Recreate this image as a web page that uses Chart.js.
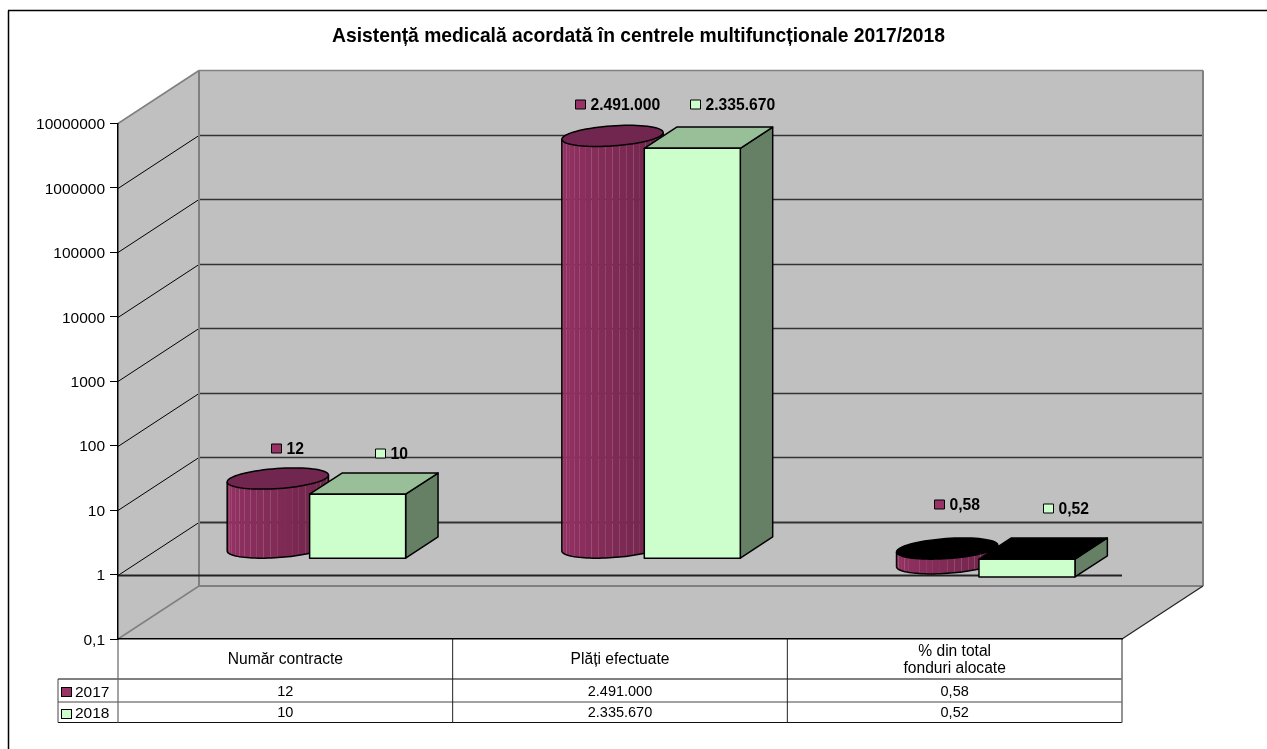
<!DOCTYPE html>
<html>
<head>
<meta charset="utf-8">
<title>Asistență medicală</title>
<script src="https://cdn.jsdelivr.net/npm/chart.js@4"></script>
<style>
    html, body { margin: 0; padding: 0; background: #fff; }
    canvas { display: block; }
</style>
</head>
<body>
<canvas id="chart" width="1267" height="749"></canvas>
<script>
const chartTitle = "Asistență medicală acordată în centrele multifuncționale 2017/2018";
const categories = ["Număr contracte", "Plăți efectuate", ["% din total", "fonduri alocate"]];
const seriesNames = ["2017", "2018"];
const values2017 = [12, 2491000, 0.58];
const values2018 = [10, 2335670, 0.52];
const tickValues = [0.1, 1, 10, 100, 1000, 10000, 100000, 1000000, 10000000];

const FONT = '"Liberation Sans", Arial, sans-serif';
const DEPTH_X = 81;
const DEPTH_Y = -53;
const NEAR = 0.3;
const FAR = 0.7;
const COLORS_2017 = { fill: "#993366", top: "#70264f" };
const COLORS_2018 = { fill: "#ccffcc", top: "#99bf99", side: "#668066" };
// where each value label sits relative to the top of its bar
const LABEL_SHIFT = [[9.5, 5, 10], [17, 24, 23]];
const LABEL_LIFT = [[30, 31, 44], [30, 33, 40]];

// 2.491.000 / 0,58
function formatValue(v) {
    const parts = String(v).split(".");
    parts[0] = parts[0].replace(/\B(?=(\d{3})+$)/g, ".");
    return parts.join(",");
}

function line(ctx, x0, y0, x1, y1, color, width) {
    ctx.strokeStyle = color;
    ctx.lineWidth = width;
    ctx.beginPath();
    ctx.moveTo(x0, y0);
    ctx.lineTo(x1, y1);
    ctx.stroke();
}

function poly(ctx, pts, fill, stroke, width) {
    ctx.beginPath();
    pts.forEach((p, i) => i ? ctx.lineTo(p[0], p[1]) : ctx.moveTo(p[0], p[1]));
    ctx.closePath();
    if (fill) {
        ctx.fillStyle = fill;
        ctx.fill();
    }
    if (stroke) {
        ctx.strokeStyle = stroke;
        ctx.lineWidth = width;
        ctx.lineJoin = "round";
        ctx.stroke();
    }
}

// walls, floor, gridlines and the table under the plot
function drawBackdrop(chart) {
    const ctx = chart.ctx;
    const { left, right, top, bottom } = chart.chartArea;
    const yScale = chart.scales.y;
    const backLeft = left + DEPTH_X;
    const backRight = right + DEPTH_X;
    const wallGray = "#c0c0c0";
    const edge = "#808080";

    // outer frame, the right and bottom sides run off the page
    line(ctx, 8.5, 749, 8.5, 10.5, "#000", 1.5);
    line(ctx, 8, 10.5, 1267, 10.5, "#000", 1.5);

    poly(ctx, [[left, top], [backLeft, top + DEPTH_Y], [backLeft, bottom + DEPTH_Y], [left, bottom]], wallGray);
    poly(ctx, [[backLeft, top + DEPTH_Y], [backRight, top + DEPTH_Y], [backRight, bottom + DEPTH_Y], [backLeft, bottom + DEPTH_Y]], wallGray);
    poly(ctx, [[left, bottom], [backLeft, bottom + DEPTH_Y], [backRight, bottom + DEPTH_Y], [right, bottom]], wallGray);

    tickValues.slice(1, -1).forEach(v => {
        const y = Math.round(yScale.getPixelForValue(v)) + 0.5;
        const backY = y + DEPTH_Y;
        line(ctx, left, y, backLeft, backY, "#000", 1);
        line(ctx, backLeft, backY, backRight, backY, "#333", v === 1 ? 2 : 1.3);
    });

    line(ctx, left, top, backLeft, top + DEPTH_Y, edge, 1.5);
    line(ctx, backLeft, top + DEPTH_Y, backRight, top + DEPTH_Y, edge, 1.5);
    line(ctx, backLeft, top + DEPTH_Y, backLeft, bottom + DEPTH_Y, edge, 2);
    line(ctx, backRight, top + DEPTH_Y, backRight, bottom + DEPTH_Y, edge, 2);
    line(ctx, left, bottom, backLeft, bottom + DEPTH_Y, edge, 1.5);
    line(ctx, backLeft, bottom + DEPTH_Y, backRight, bottom + DEPTH_Y, edge, 2);
    line(ctx, right, bottom, backRight, bottom + DEPTH_Y, "#222", 1.2);

    // the axis crosses at 1, that line stays in the front plane
    const oneY = Math.round(yScale.getPixelForValue(1)) + 0.5;
    line(ctx, left, oneY, right, oneY, "#222", 2);

    drawTable(chart);
}

function drawTable(chart) {
    const ctx = chart.ctx;
    const { left, right, bottom } = chart.chartArea;
    const xScale = chart.scales.x;
    const legendLeft = left - 60;
    const rowTop = bottom + 40;
    const rowMid = bottom + 63;
    const rowEnd = bottom + 83.5;
    const cell = (right - left) / categories.length;

    line(ctx, legendLeft, rowTop, right, rowTop, "#808080", 2);
    line(ctx, legendLeft, rowMid, right, rowMid, "#444", 1);
    line(ctx, legendLeft, rowEnd, right, rowEnd, "#111", 1.2);
    line(ctx, legendLeft, rowTop, legendLeft, rowEnd, "#444", 1);
    line(ctx, left, bottom, left, rowEnd, "#666", 1.2);
    line(ctx, right, bottom, right, rowEnd, "#777", 1.6);
    for (let i = 1; i < categories.length; i++) {
        line(ctx, left + cell * i, bottom, left + cell * i, rowEnd, "#222", 1);
    }

    ctx.textBaseline = "middle";
    const rows = [
        { name: seriesNames[0], data: values2017, color: COLORS_2017.fill, y: rowTop + 12.5, swatchY: rowTop + 8.5 },
        { name: seriesNames[1], data: values2018, color: COLORS_2018.fill, y: rowMid + 11, swatchY: rowMid + 7.5 }
    ];
    rows.forEach(row => {
        ctx.fillStyle = row.color;
        ctx.strokeStyle = "#000";
        ctx.lineWidth = 1;
        ctx.fillRect(legendLeft + 3.5, row.swatchY, 10, 9);
        ctx.strokeRect(legendLeft + 3.5, row.swatchY, 10, 9);
        ctx.fillStyle = "#000";
        ctx.font = "15.5px " + FONT;
        ctx.textAlign = "left";
        ctx.fillText(row.name, legendLeft + 17, row.y + 1);
        ctx.font = "14.5px " + FONT;
        ctx.textAlign = "center";
        row.data.forEach((v, i) => ctx.fillText(formatValue(v), xScale.getPixelForValue(i), row.y));
    });
}

// point on the ellipse of a cylinder cap, skewed along the depth vector
function capPoint(cx, cy, w, t) {
    const depth = FAR - NEAR;
    return [
        cx + (w / 2) * Math.cos(t) + (DEPTH_X * depth / 2) * Math.sin(t),
        cy + (DEPTH_Y * depth / 2) * Math.sin(t)
    ];
}

function drawCylinder(ctx, bar, capBlack) {
    const mid = (NEAR + FAR) / 2;
    const cx = bar.x + DEPTH_X * mid;
    const topY = Math.min(bar.y, bar.base) + DEPTH_Y * mid;
    const bottomY = Math.max(bar.y, bar.base) + DEPTH_Y * mid;
    const w = bar.width;
    const start = Math.atan2(DEPTH_X * (FAR - NEAR) / 2, w / 2) + Math.PI;
    const facets = 22;

    // one flat facet per step, the seams between them stay visible
    for (let k = 0; k < facets; k++) {
        const a = start + Math.PI * k / facets;
        const b = start + Math.PI * (k + 1) / facets;
        const s = k / (facets - 1);
        const r = Math.round(153 - 50 * s);
        const g = Math.round(51 - 17 * s);
        const bl = Math.round(102 - 33 * s);
        poly(ctx, [capPoint(cx, topY, w, a), capPoint(cx, topY, w, b), capPoint(cx, bottomY, w, b), capPoint(cx, bottomY, w, a)], `rgb(${r},${g},${bl})`);
    }

    ctx.strokeStyle = "#000";
    ctx.lineWidth = 1.5;
    ctx.beginPath();
    for (let k = 0; k <= 48; k++) {
        const p = capPoint(cx, bottomY, w, start + Math.PI * k / 48);
        k ? ctx.lineTo(p[0], p[1]) : ctx.moveTo(p[0], p[1]);
    }
    ctx.stroke();
    const l = capPoint(cx, topY, w, start);
    const lb = capPoint(cx, bottomY, w, start);
    const rt = capPoint(cx, topY, w, start + Math.PI);
    const rb = capPoint(cx, bottomY, w, start + Math.PI);
    line(ctx, l[0], l[1], lb[0], lb[1], "#000", 1.5);
    line(ctx, rt[0], rt[1], rb[0], rb[1], "#000", 1.5);

    const cap = [];
    for (let k = 0; k < 72; k++) {
        cap.push(capPoint(cx, topY, w, Math.PI * 2 * k / 72));
    }
    poly(ctx, cap, capBlack ? "#000" : COLORS_2017.top, "#000", 1.5);
}

function drawBox(ctx, bar, capBlack) {
    const x0 = bar.x - bar.width / 2 + DEPTH_X * NEAR;
    const x1 = bar.x + bar.width / 2 + DEPTH_X * NEAR;
    const dx = DEPTH_X * (FAR - NEAR);
    const dy = DEPTH_Y * (FAR - NEAR);
    const topY = Math.min(bar.y, bar.base) + DEPTH_Y * NEAR;
    const bottomY = Math.max(bar.y, bar.base) + DEPTH_Y * NEAR;

    poly(ctx, [[x1, topY], [x1 + dx, topY + dy], [x1 + dx, bottomY + dy], [x1, bottomY]], COLORS_2018.side, "#000", 1.5);
    poly(ctx, [[x0, topY], [x0 + dx, topY + dy], [x1 + dx, topY + dy], [x1, topY]], capBlack ? "#000" : COLORS_2018.top, "#000", 1.5);
    poly(ctx, [[x0, topY], [x1, topY], [x1, bottomY], [x0, bottomY]], COLORS_2018.fill, "#000", 1.5);
}

function drawLabel(ctx, bar, value, color, shift, lift) {
    const mid = (NEAR + FAR) / 2;
    const text = formatValue(value);
    const topY = Math.min(bar.y, bar.base) + DEPTH_Y * mid;
    const y = Math.round(topY - lift);
    ctx.font = "bold 15.7px " + FONT;
    const total = 15 + ctx.measureText(text).width;
    const left = Math.round(bar.x + DEPTH_X * mid + shift - total / 2) + 0.5;
    ctx.fillStyle = color;
    ctx.strokeStyle = "#000";
    ctx.lineWidth = 1;
    ctx.fillRect(left, y - 5, 10, 9);
    ctx.strokeRect(left, y - 5, 10, 9);
    ctx.fillStyle = "#000";
    ctx.textAlign = "left";
    ctx.textBaseline = "middle";
    ctx.fillText(text, left + 15, y + 0.5);
}

const pseudo3d = {
    id: "pseudo3d",
    afterLayout(chart) {
        // the title is centred on the frame, not on the plot
        chart.titleBlock.right = chart.width;
    },
    beforeDraw(chart) {
        drawBackdrop(chart);
    },
    afterDatasetsDraw(chart) {
        const ctx = chart.ctx;
        const bars2017 = chart.getDatasetMeta(0).data;
        const bars2018 = chart.getDatasetMeta(1).data;
        ctx.save();
        categories.forEach((c, i) => {
            drawCylinder(ctx, bars2017[i], values2017[i] < 1);
            drawBox(ctx, bars2018[i], values2018[i] < 1);
        });
        categories.forEach((c, i) => {
            drawLabel(ctx, bars2017[i], values2017[i], COLORS_2017.fill, LABEL_SHIFT[0][i], LABEL_LIFT[0][i]);
            drawLabel(ctx, bars2018[i], values2018[i], COLORS_2018.fill, LABEL_SHIFT[1][i], LABEL_LIFT[1][i]);
        });
        ctx.restore();
    }
};

document.addEventListener("DOMContentLoaded", function() {
    new Chart(document.getElementById("chart"), {
        type: "bar",
        plugins: [pseudo3d],
        data: {
            labels: categories,
            datasets: [
                { label: seriesNames[0], data: values2017, base: 1, backgroundColor: "rgba(0,0,0,0)" },
                { label: seriesNames[1], data: values2018, base: 1, backgroundColor: "rgba(0,0,0,0)" }
            ]
        },
        options: {
            responsive: false,
            animation: false,
            layout: { padding: { left: 10, right: 145, top: 0, bottom: 0 } },
            datasets: { bar: { barPercentage: 1, categoryPercentage: 0.5737 } },
            plugins: {
                legend: { display: false },
                tooltip: { enabled: false },
                title: {
                    display: true,
                    text: chartTitle,
                    color: "#000",
                    font: { family: FONT, size: 19.3, weight: "bold" },
                    padding: { top: 25, bottom: 75.34 }
                }
            },
            scales: {
                x: {
                    grid: { display: false },
                    border: { color: "#000", width: 1.5 },
                    afterFit: scale => { scale.height = 110; },
                    ticks: {
                        color: "#000",
                        font: { family: FONT, size: 15.6, lineHeight: 1.1 },
                        padding: 4.5,
                        crossAlign: "center",
                        autoSkip: false,
                        maxRotation: 0
                    }
                },
                y: {
                    type: "logarithmic",
                    min: 0.1,
                    max: 10000000,
                    afterBuildTicks: scale => { scale.ticks = tickValues.map(v => ({ value: v })); },
                    afterFit: scale => { scale.width = 108; },
                    grid: { drawOnChartArea: false, color: "#000", tickLength: 8 },
                    border: { color: "#000", width: 1.5 },
                    ticks: {
                        color: "#000",
                        font: { family: FONT, size: 15.5 },
                        padding: 5,
                        labelOffset: 1.5,
                        autoSkip: false,
                        callback: v => String(v).replace(".", ",")
                    }
                }
            }
        }
    });
});
</script>
</body>
</html>
